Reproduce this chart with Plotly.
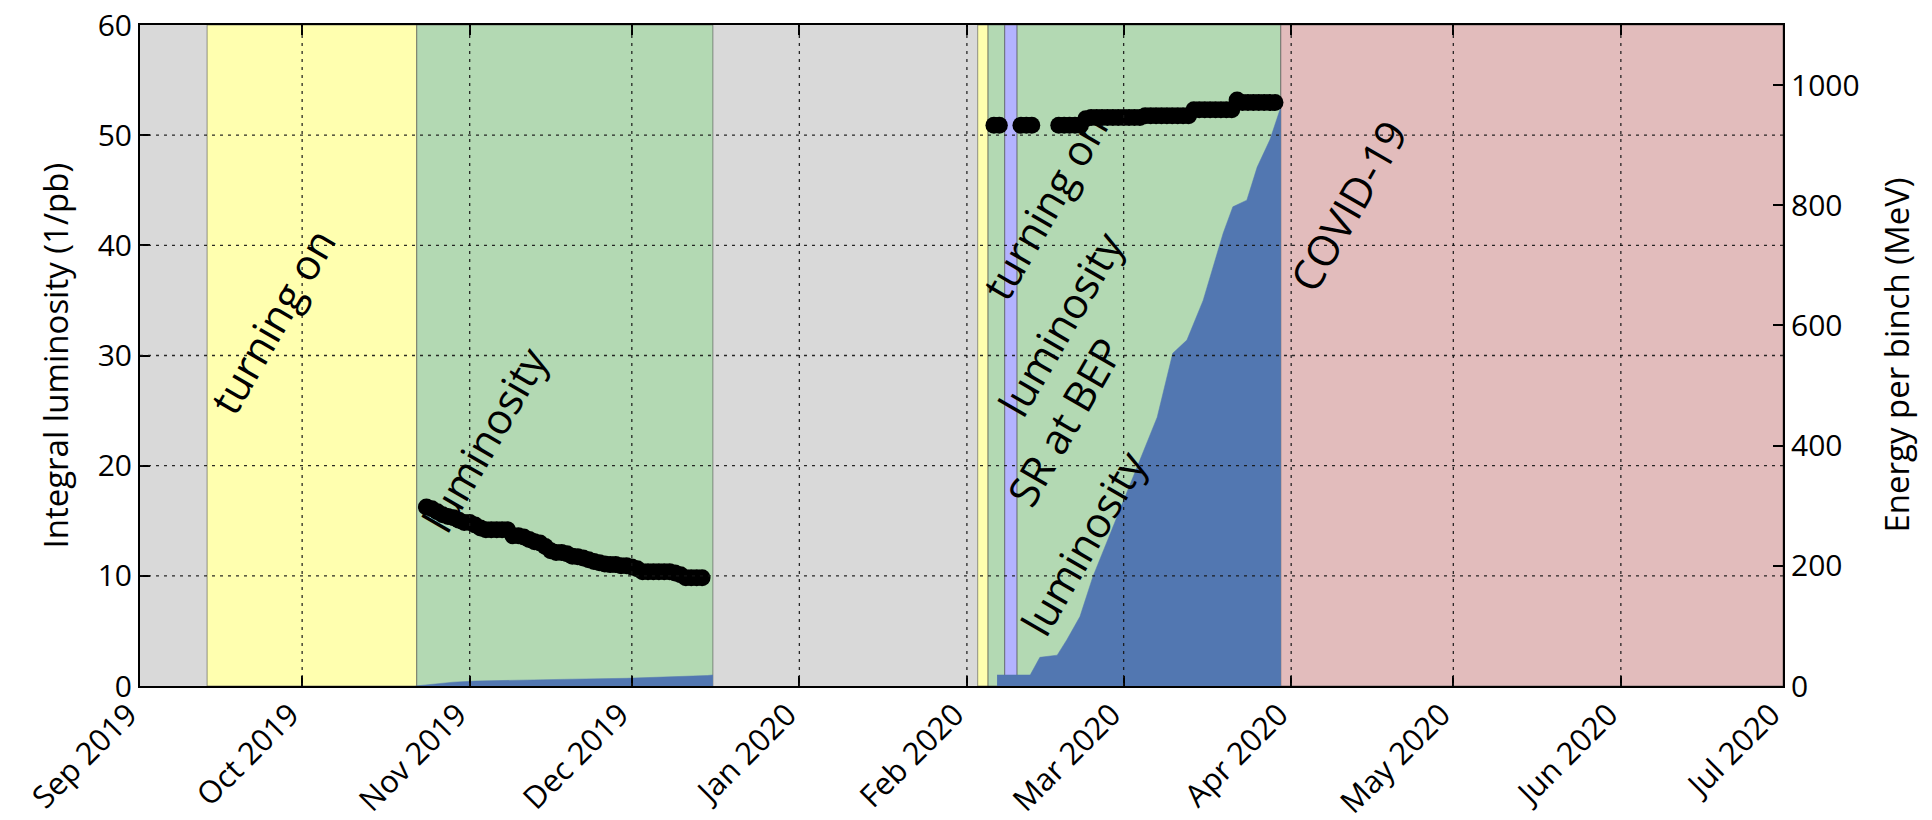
import plotly.graph_objects as go

FONT = "Open Sans"

# Axis ticks
month_ticks = ["2019-09-01", "2019-10-01", "2019-11-01", "2019-12-01", "2020-01-01",
               "2020-02-01", "2020-03-01", "2020-04-01", "2020-05-01", "2020-06-01",
               "2020-07-01"]
month_labels = ["Sep 2019", "Oct 2019", "Nov 2019", "Dec 2019", "Jan 2020", "Feb 2020",
                "Mar 2020", "Apr 2020", "May 2020", "Jun 2020", "Jul 2020"]
lum_ticks = [0, 10, 20, 30, 40, 50, 60]
energy_ticks = [0, 200, 400, 600, 800, 1000]

# Collider run phases (background is the idle period)
phase_starts = ["2019-09-13 10:00", "2019-10-22 05:00", "2020-02-03 00:00",
                "2020-02-04 22:00", "2020-02-08 00:00", "2020-02-10 07:00",
                "2020-03-30 02:00"]
phase_ends = ["2019-10-22 05:00", "2019-12-16 00:00", "2020-02-04 22:00",
              "2020-02-08 00:00", "2020-02-10 07:00", "2020-03-30 02:00",
              "2020-07-01 00:00"]
phase_colors = ["#ffffaf", "#b3d9b3", "#ffffaf", "#b3d9b3", "#b3b3ff", "#b3d9b3", "#e2bcbc"]

# Integrated luminosity, autumn run
lum1_dates = ["2019-10-22", "2019-10-25", "2019-10-29", "2019-11-02", "2019-11-10",
              "2019-11-20", "2019-11-30", "2019-12-08", "2019-12-15", "2019-12-16"]
lum1_values = [0.0, 0.15, 0.35, 0.45, 0.55, 0.62, 0.7, 0.8, 0.95, 1.0]

# Integrated luminosity, winter/spring run
lum2_dates = ["2020-02-06 14:00", "2020-02-12 17:00", "2020-02-14 12:00", "2020-02-17 17:00",
              "2020-02-19 12:00", "2020-02-21 22:00", "2020-02-24 07:00", "2020-02-29 07:00",
              "2020-03-04 00:00", "2020-03-07 05:00", "2020-03-10 02:00", "2020-03-12 17:00",
              "2020-03-15 17:00", "2020-03-19 10:00", "2020-03-21 05:00", "2020-03-23 19:00",
              "2020-03-25 17:00", "2020-03-28 02:00", "2020-03-29 22:00", "2020-03-30 02:00"]
lum2_values = [1.0, 1.0, 2.6, 2.8, 4.2, 6.3, 9.9, 16.0, 20.5, 24.4, 30.2, 31.4, 35.0,
               41.1, 43.5, 44.1, 47.1, 49.6, 52.3, 53.0]

# Beam energy per day (MeV)
energy_dates = [
    "2019-10-24", "2019-10-25", "2019-10-26", "2019-10-27", "2019-10-28", "2019-10-29",
    "2019-10-30", "2019-10-31", "2019-11-01", "2019-11-02", "2019-11-03", "2019-11-04",
    "2019-11-05", "2019-11-06", "2019-11-07", "2019-11-08", "2019-11-09", "2019-11-10",
    "2019-11-11", "2019-11-12", "2019-11-13", "2019-11-14", "2019-11-15", "2019-11-16",
    "2019-11-17", "2019-11-18", "2019-11-19", "2019-11-20", "2019-11-21", "2019-11-22",
    "2019-11-23", "2019-11-24", "2019-11-25", "2019-11-26", "2019-11-27", "2019-11-28",
    "2019-11-29", "2019-11-30", "2019-12-01", "2019-12-02", "2019-12-03", "2019-12-04",
    "2019-12-05", "2019-12-06", "2019-12-07", "2019-12-08", "2019-12-09", "2019-12-10",
    "2019-12-11", "2019-12-12", "2019-12-13", "2019-12-14",
    "2020-02-06", "2020-02-07",
    "2020-02-11", "2020-02-12", "2020-02-13",
    "2020-02-18", "2020-02-19", "2020-02-20", "2020-02-21", "2020-02-22",
    "2020-02-23", "2020-02-24", "2020-02-25", "2020-02-26", "2020-02-27", "2020-02-28",
    "2020-02-29", "2020-03-01", "2020-03-02", "2020-03-03", "2020-03-04",
    "2020-03-05", "2020-03-06", "2020-03-07", "2020-03-08", "2020-03-09", "2020-03-10",
    "2020-03-11", "2020-03-12", "2020-03-13",
    "2020-03-14", "2020-03-15", "2020-03-16", "2020-03-17", "2020-03-18", "2020-03-19",
    "2020-03-20", "2020-03-21",
    "2020-03-22", "2020-03-23", "2020-03-24", "2020-03-25", "2020-03-26", "2020-03-27",
    "2020-03-28", "2020-03-29",
]
energy_values = [
    298, 295, 290, 285, 282, 280,
    276, 272, 272, 268, 263, 260,
    260, 260, 260, 260, 250, 250,
    248, 244, 240, 238, 232, 225,
    222, 222, 220, 216, 215, 213,
    210, 207, 205, 203, 202, 202,
    200, 200, 198, 195, 190, 190,
    190, 190, 190, 190, 188, 185,
    180, 180, 180, 180,
    933, 933,
    933, 933, 933,
    933, 933, 933, 933, 933,
    944, 946, 946, 946, 946, 946,
    946, 946, 946, 946, 946,
    949, 949, 949, 949, 949, 949,
    949, 949, 949,
    959, 959, 959, 959, 959, 959,
    959, 959,
    975, 971, 971, 971, 971, 971,
    971, 971,
]

# Text labels for the run phases: (text, date, luminosity level)
phase_notes = [
    ("turning on", "2019-09-25 10:00", 33.2),
    ("luminosity", "2019-11-03 14:00", 22.4),
    ("turning on", "2020-02-15 08:00", 43.5),
    ("luminosity", "2020-02-18 05:00", 32.9),
    ("SR at BEP", "2020-02-19 00:00", 24.0),
    ("luminosity", "2020-02-22 12:00", 13.0),
    ("COVID-19", "2020-04-11 12:00", 43.6),
]

fig = go.Figure()

for start, end, color in zip(phase_starts, phase_ends, phase_colors):
    fig.add_shape(type="rect", xref="x", yref="paper", x0=start, x1=end, y0=0, y1=1,
                  fillcolor=color, line=dict(color="rgba(70,70,70,0.55)", width=1),
                  layer="below")

lum_color = "#5277b1"
for dates, values in ((lum1_dates, lum1_values), (lum2_dates, lum2_values)):
    fig.add_trace(go.Scatter(x=dates, y=values, mode="lines", fill="tozeroy",
                             fillcolor=lum_color, line=dict(color=lum_color, width=0.5),
                             hoverinfo="skip", showlegend=False))

fig.add_trace(go.Scatter(x=energy_dates, y=energy_values, yaxis="y2", mode="markers",
                         marker=dict(color="black", size=17, line=dict(width=0)),
                         showlegend=False))

# Dotted grid drawn over the filled areas
grid_line = dict(color="rgba(20,20,20,0.9)", width=1.3, dash="3px,5px")
for t in month_ticks[1:-1]:
    fig.add_shape(type="line", xref="x", yref="paper", x0=t, x1=t, y0=0, y1=1,
                  line=grid_line, layer="above")
for v in lum_ticks[1:-1]:
    fig.add_shape(type="line", xref="paper", yref="y", x0=0, x1=1, y0=v, y1=v,
                  line=grid_line, layer="above")

for text, x, y in phase_notes:
    fig.add_annotation(text=text, x=x, y=y, xref="x", yref="y", showarrow=False,
                       textangle=-60, xanchor="center", yanchor="middle",
                       font=dict(family=FONT, size=42, color="#000000"))

tick_font = dict(family=FONT, size=30, color="#000000")
xtick_font = dict(family=FONT, size=31, color="#000000")
title_font = dict(family=FONT, size=33, color="#000000")

fig.add_annotation(text="Integral luminosity (1/pb)", xref="paper", yref="paper",
                   x=-0.0517, y=0.5, textangle=-90, showarrow=False,
                   xanchor="center", yanchor="middle", font=title_font)
fig.add_annotation(text="Energy per binch (MeV)", xref="paper", yref="paper",
                   x=1.0688, y=0.5, textangle=-90, showarrow=False,
                   xanchor="center", yanchor="middle", font=title_font)

fig.update_layout(
    width=1932, height=820,
    margin=dict(l=140, r=149, t=25, b=134, autoexpand=False),
    paper_bgcolor="white",
    plot_bgcolor="#d9d9d9",
    showlegend=False,
    xaxis=dict(type="date", range=[month_ticks[0], month_ticks[-1]],
               tickvals=month_ticks, ticktext=month_labels, tickangle=-45,
               ticks="inside", ticklen=10, tickwidth=1.5, tickcolor="black",
               showline=True, linecolor="black", linewidth=2, mirror="ticks",
               showgrid=False, zeroline=False, tickfont=xtick_font,
               automargin=False, ticklabelshift=-12, ticklabelstandoff=-4),
    yaxis=dict(range=[0, 60], tickvals=lum_ticks, ticks="inside", ticklen=10,
               tickwidth=1.5, tickcolor="black", showline=True, linecolor="black",
               linewidth=2, mirror=True, showgrid=False, zeroline=False,
               tickfont=tick_font, automargin=False),
    yaxis2=dict(range=[0, 1100], tickvals=energy_ticks, overlaying="y", side="right",
                ticks="inside", ticklen=10, tickwidth=1.5, tickcolor="black",
                showline=True, linecolor="black", linewidth=2, showgrid=False,
                zeroline=False, tickfont=tick_font, automargin=False),
)

fig.write_html("out.html")
